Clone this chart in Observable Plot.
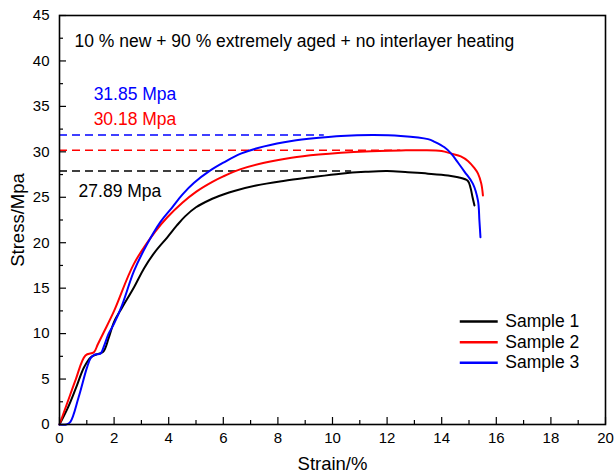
<!DOCTYPE html>
<html><head><meta charset="utf-8">
<script src="https://cdn.jsdelivr.net/npm/d3@7"></script>
<script src="https://cdn.jsdelivr.net/npm/@observablehq/plot@0.6"></script>
<style>body{margin:0;background:#fff;}</style>
</head><body><div id="chart"></div>
<script>
const title = "10 % new + 90 % extremely aged + no interlayer heating";
const sampleNames = ["Sample 1", "Sample 2", "Sample 3"];
const sampleColors = ["#000000", "#ff0000", "#0000ff"];

const strain1 = [0, 0.3, 0.6, 0.9, 1.15, 1.35, 1.6, 1.8, 2.0, 2.3, 2.73, 3.1, 3.5, 3.95, 4.3, 4.6, 5.0, 5.5, 6.0, 6.4, 7.2, 8.2, 9.2, 10.3, 11.2, 12.0, 12.76, 13.5, 14.23, 14.6, 14.96, 15.06, 15.13, 15.2];
const stress1 = [0, 1.8, 4.0, 6.3, 7.4, 7.7, 8.0, 9.5, 11.3, 12.9, 15.1, 17.2, 19.0, 20.6, 21.9, 22.9, 23.9, 24.7, 25.3, 25.7, 26.3, 26.8, 27.2, 27.6, 27.8, 27.89, 27.75, 27.6, 27.4, 27.2, 26.8, 26.0, 25.0, 24.1];

const strain2 = [0, 0.3, 0.6, 0.95, 1.26, 1.4, 1.63, 2.0, 2.73, 3.5, 3.95, 4.5, 5.0, 5.6, 6.0, 6.64, 7.5, 8.5, 9.5, 10.31, 11.2, 12.5, 13.3, 14.0, 14.35, 14.7, 14.96, 15.2, 15.33, 15.45, 15.51];
const stress2 = [0, 2.5, 5.0, 7.6, 7.95, 8.8, 10.2, 12.5, 17.7, 21.2, 22.8, 24.4, 25.6, 26.7, 27.3, 28.1, 28.8, 29.35, 29.7, 29.9, 30.05, 30.15, 30.18, 30.1, 29.8, 29.5, 29.0, 28.2, 27.6, 26.5, 25.2];

const strain3 = [0, 0.25, 0.4, 0.7, 1.0, 1.14, 1.3, 1.5, 1.65, 1.8, 2.0, 2.3, 2.73, 3.2, 3.7, 4.13, 4.5, 4.93, 5.5, 6.0, 6.64, 7.5, 8.5, 9.5, 10.31, 11.5, 12.5, 13.5, 13.74, 14.1, 14.35, 14.6, 14.84, 15.14, 15.33, 15.38, 15.42];
const stress3 = [0, 0, 0.3, 3.0, 6.2, 7.3, 7.7, 7.8, 8.8, 10.0, 11.1, 13.2, 16.9, 19.8, 22.3, 23.9, 25.3, 26.6, 27.9, 28.8, 29.8, 30.6, 31.2, 31.55, 31.75, 31.85, 31.75, 31.4, 31.1, 30.5, 29.8, 28.8, 27.8, 26.5, 24.6, 22.5, 20.6];

const peakStress = [27.89, 30.18, 31.85];
const peakEndStrain = [10.7, 12.5, 9.7];
const peakLabels = ["27.89 Mpa", "30.18 Mpa", "31.85 Mpa"];
const peakLabelX = [0.7, 1.25, 1.25];
const peakLabelY = [25.7, 33.55, 36.3];

const xTicks = d3.range(0, 21, 2);
const xMinor = d3.range(1, 20, 2);
const yTicks = d3.range(0, 46, 5);
const yMinor = d3.range(2.5, 45, 5);

const legendY = [11.33, 9.05, 6.8];
const legendX1 = 14.68, legendX2 = 16.07, legendTextX = 16.33;

const series = [[strain1, stress1], [strain2, stress2], [strain3, stress3]];
const rows = series.flatMap(([xs, ys], i) => xs.map((x, j) => ({strain: x, stress: ys[j], sample: sampleNames[i]})));
const peaks = sampleNames.map((s, i) => ({sample: s, stress: peakStress[i], end: peakEndStrain[i], label: peakLabels[i], lx: peakLabelX[i], ly: peakLabelY[i]}));
const legend = sampleNames.map((s, i) => ({sample: s, y: legendY[i]}));

const font = "'Liberation Sans', Arial, sans-serif";

const chart = Plot.plot({
  width: 616,
  height: 474,
  marginLeft: 59,
  marginTop: 15,
  marginRight: 11,
  marginBottom: 50,
  style: {fontFamily: font, fontSize: "15px", color: "#000", background: "#fff"},
  x: {domain: [0, 20]},
  y: {domain: [0, 45]},
  color: {domain: sampleNames, range: sampleColors},
  marks: [
    Plot.ruleY(peaks, {y: "stress", x1: 0, x2: "end", stroke: "sample", strokeWidth: 1.5, strokeDasharray: "8,5"}),
    Plot.line(rows, {x: "strain", y: "stress", z: "sample", stroke: "sample", strokeWidth: 2, curve: "catmull-rom"}),
    Plot.text(peaks, {x: "lx", y: "ly", text: "label", fill: "sample", textAnchor: "start", fontSize: 17.5}),
    Plot.text([title], {x: 0.55, y: 42.2, text: d => d, textAnchor: "start", fontSize: 17.5, fill: "#000"}),
    Plot.ruleY(legend, {y: "y", x1: legendX1, x2: legendX2, stroke: "sample", strokeWidth: 2.5}),
    Plot.text(legend, {x: legendTextX, y: "y", text: "sample", textAnchor: "start", fontSize: 17.5, fill: "#000"}),
    Plot.axisX(xTicks, {tickSize: -7, text: null, label: null, strokeWidth: 1.2}),
    Plot.axisX(xMinor, {tickSize: -4, text: null, label: null, strokeWidth: 1.2}),
    Plot.axisX(xTicks, {tickSize: 0, tickPadding: 8, label: null, fontSize: 15}),
    Plot.axisX([], {tickSize: 0, label: "Strain/%", labelAnchor: "center", labelOffset: 45, labelArrow: "none", fontSize: 18.5}),
    Plot.axisY(yTicks, {tickSize: -7, text: null, label: null, strokeWidth: 1.2}),
    Plot.axisY(yMinor, {tickSize: -4, text: null, label: null, strokeWidth: 1.2}),
    Plot.axisY(yTicks, {tickSize: 0, tickPadding: 10, label: null, fontSize: 15}),
    Plot.axisY([], {tickSize: 0, label: "Stress/Mpa", labelAnchor: "center", labelOffset: 49, labelArrow: "none", fontSize: 18.5}),
    Plot.frame({stroke: "#000", strokeWidth: 1.6})
  ]
});
document.getElementById("chart").appendChild(chart);
</script>
</body></html>
